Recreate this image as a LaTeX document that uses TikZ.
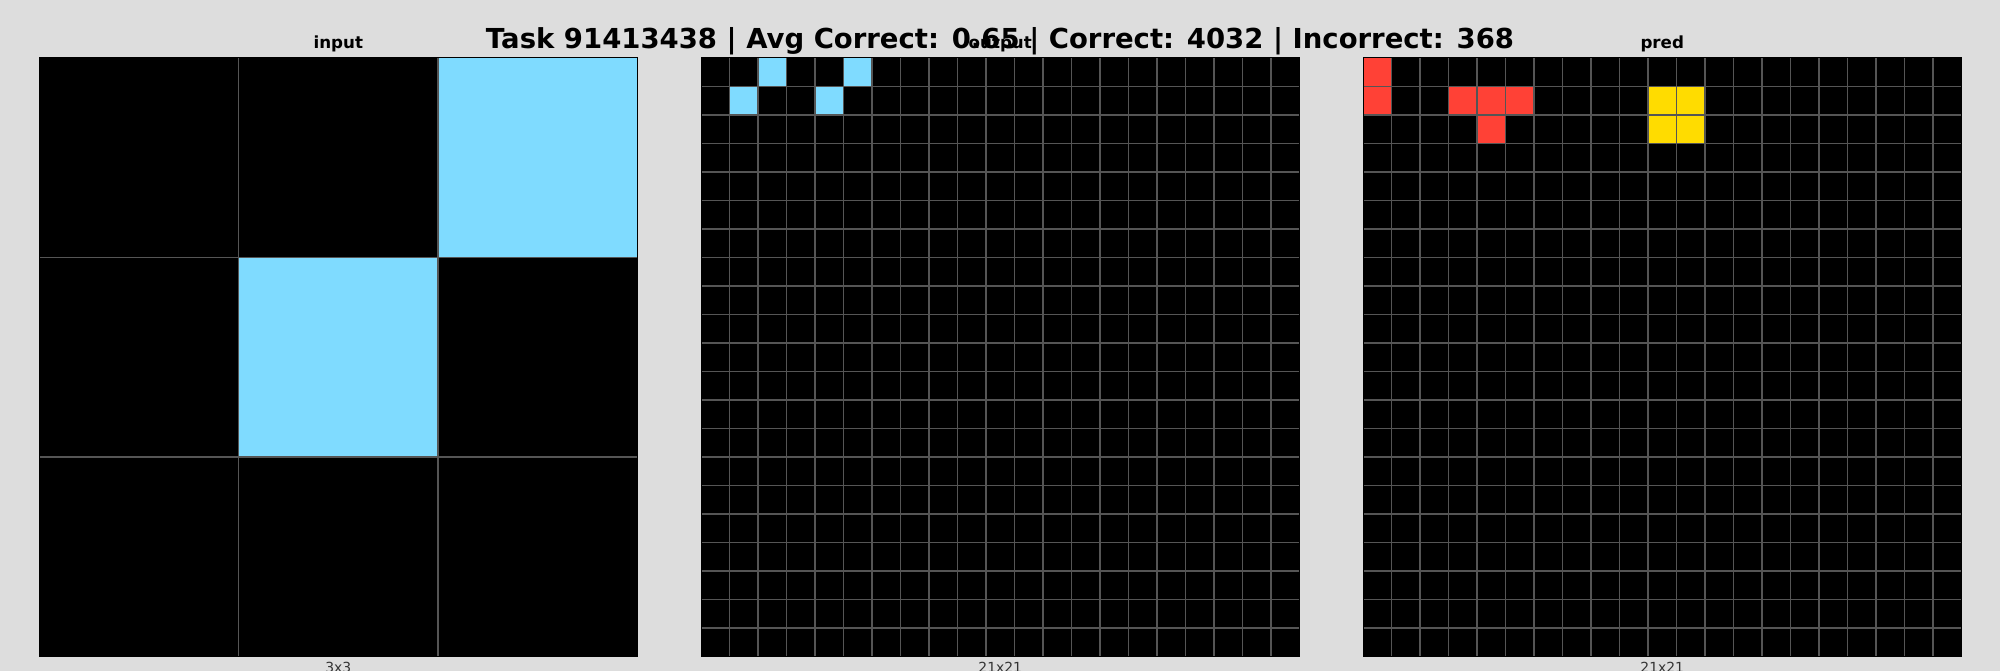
\documentclass[tikz,border=0pt]{standalone}
\usepackage{fontspec}
\setmainfont{DejaVu Sans}
\definecolor{bg}{HTML}{DDDDDD}
\definecolor{arcblue}{HTML}{7FDBFF}
\definecolor{arcred}{HTML}{FF4136}
\definecolor{arcyellow}{HTML}{FFDC00}
\definecolor{gridc}{HTML}{555555}
\definecolor{labc}{HTML}{333333}
\newcommand\arcgrid[4]{% #1 x0, #2 n, #3 n-1, #4 cells r/c/colour
\begin{scope}[shift={(#1pt,-58pt)}, x=598.5pt/#2, y=-598.5pt/#2]
 \fill[black] (0,0) rectangle (#2,#2);
 \foreach \r/\c/\col in {#4} {\fill[\col] (\c,\r) rectangle ++(1,1);}
 \foreach \i in {1,...,#3} {\draw[gridline] (\i,0) -- (\i,#2); \draw[gridline] (0,\i) -- (#2,\i);}
 \draw[black, line width=1pt] (0,0) rectangle (#2,#2);
\end{scope}}
\begin{document}
\begin{tikzpicture}[x=1pt,y=-1pt,
  gridline/.style={draw=gridc, line width=1.5pt},
  suptitle/.style={inner sep=0pt, font=\fontsize{27.5}{30}\selectfont\bfseries},
  subtitle/.style={inner sep=0pt, font=\fontsize{16.7}{19}\selectfont\bfseries},
  xlab/.style={inner sep=0pt, text=labc, font=\fontsize{13.9}{16}\selectfont}]
\fill[bg] (0,0) rectangle (2000,671);
\useasboundingbox (0,0) rectangle (2000,671);
\arcgrid{39}{3}{2}{0/2/arcblue, 1/1/arcblue}
\arcgrid{701}{21}{20}{0/2/arcblue, 0/5/arcblue, 1/1/arcblue, 1/4/arcblue}
\arcgrid{1363}{21}{20}{0/0/arcred, 1/0/arcred, 1/3/arcred, 1/4/arcred, 1/5/arcred, 2/4/arcred, 1/10/arcyellow, 1/11/arcyellow, 2/10/arcyellow, 2/11/arcyellow}
\node[subtitle, anchor=base] (tin) at (338.25,48.5) {input};
\node[subtitle, anchor=base] (tout) at (1000.25,48.5) {output};
\node[subtitle, anchor=base] (tpred) at (1662.25,48.5) {pred};
\node[suptitle, anchor=base] (title) at (1000,48.5) {Task 91413438 | Avg Correct: 0.65 | Correct: 4032 | Incorrect: 368};
\node[xlab, anchor=base] (lin) at (338.25,672.8) {3x3};
\node[xlab, anchor=base] (lout) at (1000.25,672.8) {21x21};
\node[xlab, anchor=base] (lpred) at (1662.25,672.8) {21x21};
\end{tikzpicture}
\end{document}
